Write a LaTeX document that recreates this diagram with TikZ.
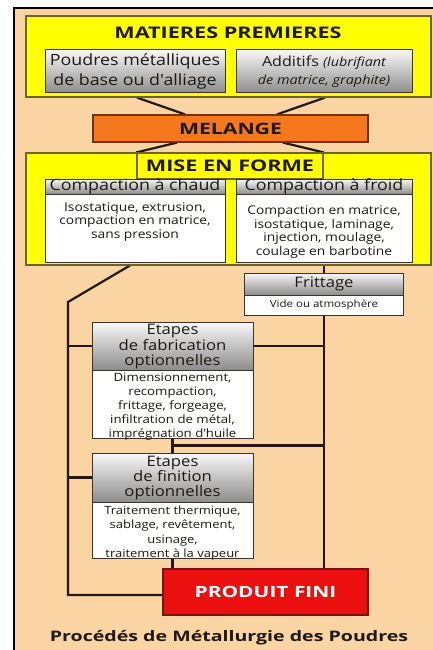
\documentclass[tikz,border=0pt]{standalone}
\usepackage{fontspec}
\setmainfont{Open Sans}[FakeStretch=1.15]
\newfontfamily\bfont{Open Sans}[FakeStretch=1.35]
\usetikzlibrary{calc}
\definecolor{peach}{RGB}{250,212,162}
\definecolor{yel}{RGB}{255,255,0}
\definecolor{olivb}{RGB}{110,100,40}
\definecolor{boxb}{RGB}{60,50,45}
\definecolor{gtop}{RGB}{248,248,248}
\definecolor{gbot}{RGB}{140,140,140}
\definecolor{linec}{RGB}{35,25,20}
\definecolor{txt}{RGB}{30,25,20}
\definecolor{orng}{RGB}{245,120,30}
\definecolor{orngb}{RGB}{110,50,20}
\definecolor{redf}{RGB}{235,15,15}
\definecolor{redb}{RGB}{120,20,20}
\pgfdeclarelayer{back}
\pgfdeclarelayer{lines}
\pgfsetlayers{back,lines,main}
\newcommand{\fs}[2]{\fontsize{#1}{#2}\selectfont}
\begin{document}
\begin{tikzpicture}[x=1pt,y=-1pt,
  conn/.style={draw=linec,line width=2.2pt,line join=miter},
  ybox/.style={draw=olivb,fill=yel,line width=1.2pt,inner sep=0pt},
  ghead/.style={draw=boxb,line width=1pt,top color=gtop,bottom color=gbot,inner sep=0pt,align=center,text=txt},
  wbody/.style={draw=boxb,line width=1pt,fill=white,inner sep=0pt,align=center,text=txt},
  lbl/.style={inner sep=0pt,align=center,text=txt},
  ttl/.style={inner sep=0pt,text=txt,font=\bfont\bfseries\fs{16}{18}}]
\useasboundingbox (0,0) rectangle (433,650);
\begin{pgfonlayer}{back}
\fill[white] (0,0) rectangle (433,650);
\fill[peach] (14,8) rectangle (433,650);
\draw[black,line width=1.5pt] (14,650) -- (14,8) -- (433,8);
\end{pgfonlayer}
% MATIERES PREMIERES
\node[ybox,minimum width=405pt,minimum height=81pt] (yel1) at (228.5,56.5) {};
\node[ttl] (t1) at (228,33) {MATIERES PREMIERES};
\node[ghead,minimum width=180pt,minimum height=43pt] (pou) at (135,71.5) {};
\node[lbl,font=\fs{15.5}{19.5}] (pout) at (135,71.5) {Poudres métalliques\\de base ou d\textquotesingle alliage};
\node[ghead,minimum width=176pt,minimum height=43pt] (add) at (324,71.5) {};
\node[lbl,font=\fs{14}{18}] (addt) at (324,72)
  {Additifs {\fs{12.5}{13}\itshape (lubrifiant}\\{\fs{12.5}{13}\itshape de matrice, graphite)}};
% MELANGE
\node[draw=orngb,fill=orng,line width=1.2pt,minimum width=275pt,minimum height=27pt,inner sep=0pt,
  text=txt,font=\bfont\bfseries\fs{15.7}{18}] (mel) at (230.5,128.5) {MELANGE};
% MISE EN FORME
\node[ybox,minimum width=405pt,minimum height=112pt] (yel2) at (228.5,209) {};
\node[ybox,minimum width=186pt,minimum height=26pt,text=txt,font=\bfont\bfseries\fs{16}{18}] (tab) at (230,166)
  {MISE EN FORME};
\node[ghead,minimum width=180pt,minimum height=15pt] (chaudh) at (135,186.5) {};
\node[lbl,font=\fs{15.5}{17}] (chaudt) at (135,186) {Compaction à chaud};
\node[wbody,minimum width=180pt,minimum height=68pt] (chaudb) at (135,228) {};
\node[lbl,font=\fs{12}{13.5}] (chaudbt) at (135,222)
  {Isostatique, extrusion,\\compaction en matrice,\\sans pression};
\node[ghead,minimum width=176pt,minimum height=15pt] (froidh) at (324,186.5) {};
\node[lbl,font=\fs{15.5}{17}] (froidt) at (324,186) {Compaction à froid};
\node[wbody,minimum width=176pt,minimum height=68pt] (froidb) at (324,228) {};
\node[lbl,font=\fs{12}{13.7}] (froidbt) at (324,232)
  {Compaction en matrice,\\isostatique, laminage,\\injection, moulage,\\coulage en barbotine};
% Frittage
\node[ghead,minimum width=159pt,minimum height=22pt] (frith) at (324,284) {};
\node[lbl,font=\fs{14.5}{16}] (fritt) at (324,284) {Frittage};
\node[wbody,minimum width=159pt,minimum height=20pt] (fritb) at (324,305) {};
\node[lbl,font=\fs{10}{12}] (fritbt) at (324,305) {Vide ou atmosphère};
% Etapes de fabrication
\node[ghead,minimum width=161pt,minimum height=48pt] (fabh) at (172.5,346) {};
\node[lbl,font=\fs{14.5}{15.5}] (fabht) at (172.5,347) {Etapes\\de fabrication\\optionnelles};
\node[wbody,minimum width=161pt,minimum height=68pt] (fabb) at (172.5,404) {};
\node[lbl,font=\fs{11.5}{14}] (fabbt) at (172.5,407)
  {Dimensionnement,\\recompaction,\\frittage, forgeage,\\infiltration de métal,\\imprégnation d\textquotesingle huile};
% Etapes de finition
\node[ghead,minimum width=161pt,minimum height=49pt] (finh) at (172.5,477.5) {};
\node[lbl,font=\fs{14.5}{15}] (finht) at (172.5,478.5) {Etapes\\de finition\\optionnelles};
\node[wbody,minimum width=161pt,minimum height=56pt] (finb) at (172.5,530) {};
\node[lbl,font=\fs{11.3}{14.3}] (finbt) at (172.5,533)
  {Traitement thermique,\\sablage, revêtement,\\usinage,\\traitement à la vapeur};
% Produit fini
\node[draw=redb,fill=redf,line width=1.2pt,minimum width=205pt,minimum height=46pt,inner sep=0pt,
  text=white,font=\bfont\bfseries\fs{15.5}{18}] (prod) at (265.5,592) {PRODUIT FINI};
\node[ttl,font=\bfont\bfseries\fs{14.5}{17}] (cap) at (229,638) {Procédés de Métallurgie des Poudres};
% connectors
\begin{pgfonlayer}{lines}
\draw[conn] ([xshift=-91.5pt]yel1.south) -- ([xshift=-45.5pt]mel.north);
\draw[conn] ([xshift=96.5pt]yel1.south) -- ([xshift=46.5pt]mel.north);
\draw[conn] ([xshift=-53.5pt]mel.south) -- (tab.north west);
\draw[conn] ([xshift=52.5pt]mel.south) -- (tab.north east);
\coordinate (bendL) at (68,302);
\draw[conn] (chaudb.south) -- (bendL) |- ([yshift=-3pt]prod.west);
\draw[conn] (froidb.south) -- (frith.north);
\draw[conn] (fritb.south) -- (fritb.south |- prod.north);
\draw[conn] (bendL |- fabh.west) -- (fabh.west);
\draw[conn] (fabh.east) -- (fabh.east -| fritb.south);
\draw[conn] (fabb.south) -- (finh.north);
\coordinate (j1) at ($(fabb.south)!0.5!(finh.north)$);
\draw[conn] (j1) -- (j1 -| fritb.south);
\draw[conn] (bendL |- finh.west) -- (finh.west);
\draw[conn] (finb.south) -- (finb.south |- prod.north);
\end{pgfonlayer}
\end{tikzpicture}
\end{document}
